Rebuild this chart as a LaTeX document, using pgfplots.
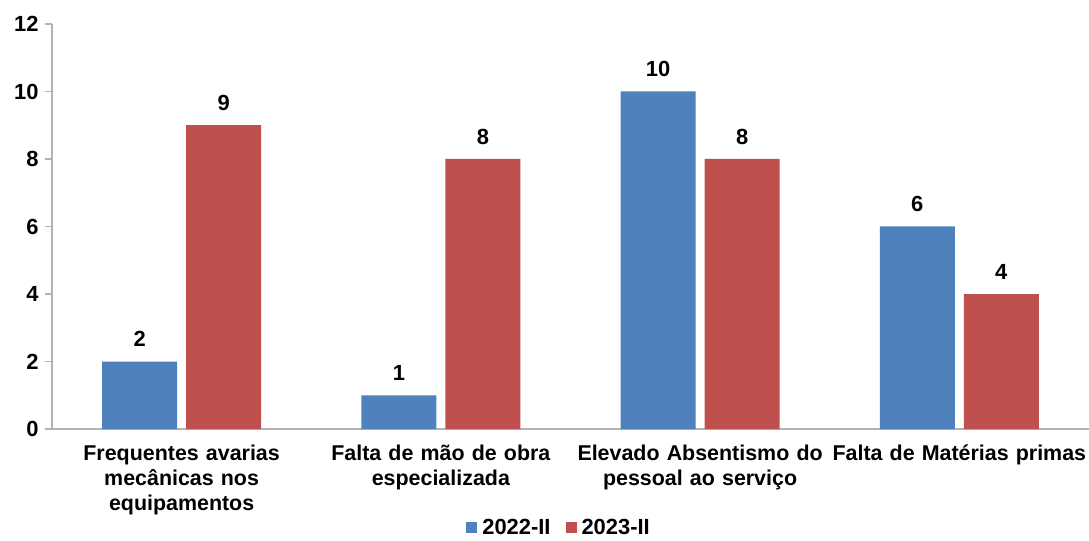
\documentclass[border=0pt]{standalone}
\usepackage{fontspec}
\setmainfont{Liberation Sans}
\usepackage{pgfplots}
\pgfplotsset{compat=1.18}
\definecolor{cblue}{HTML}{4F81BD}
\definecolor{cred}{HTML}{C0504D}
\definecolor{axgray}{HTML}{B3B3B3}
\begin{document}
\begin{tikzpicture}
\path[use as bounding box] (-52bp,-112bp) rectangle (1037bp,429bp);
\begin{axis}[
  at={(0,0)}, anchor=south west,
  scale only axis, width=1037bp, height=405bp,
  ymin=0, ymax=12, ytick={0,2,...,12},
  xmin=-0.5, xmax=3.5, xtick={0,1,2,3},
  xticklabels={{Frequentes avarias\\mecânicas nos\\equipamentos},{Falta de mão de obra\\especializada},{Elevado Absentismo do\\pessoal ao serviço},{Falta de Matérias primas}},
  axis x line*=bottom, axis y line*=left,
  axis line style={-, axgray, line width=1.3bp},
  ybar=9bp, bar width=75bp,
  tick align=outside, major tick length=7bp,
  ytick style={axgray, line width=1.3bp},
  xtick style={draw=none},
  /pgf/number format/assume math mode=true,
  yticklabel style={font=\bfseries\fontsize{22}{24}\selectfont, xshift=-3bp},
  xticklabel style={font=\bfseries\fontsize{21.5}{25.5}\selectfont, text width=300bp, align=center, yshift=-5bp},
  nodes near coords,
  every node near coord/.append style={font=\bfseries\fontsize{22}{24}\selectfont, black, yshift=11bp},
  legend style={draw=none, at={(0.489,-0.244)}, anchor=center, legend columns=2,
    font=\bfseries\fontsize{22}{24}\selectfont,
    /tikz/every odd column/.append style={column sep=3bp},
    /tikz/every even column/.append style={column sep=13bp}},
  legend image code/.code={\fill[#1] (0bp,-5.5bp) rectangle (11bp,5.5bp);},
  clip=false,
]
\addplot[fill=cblue, draw=none] coordinates {(0,2) (1,1) (2,10) (3,6)};
\addplot[fill=cred, draw=none] coordinates {(0,9) (1,8) (2,8) (3,4)};
\legend{2022-II, 2023-II}
\end{axis}
\end{tikzpicture}
\end{document}
